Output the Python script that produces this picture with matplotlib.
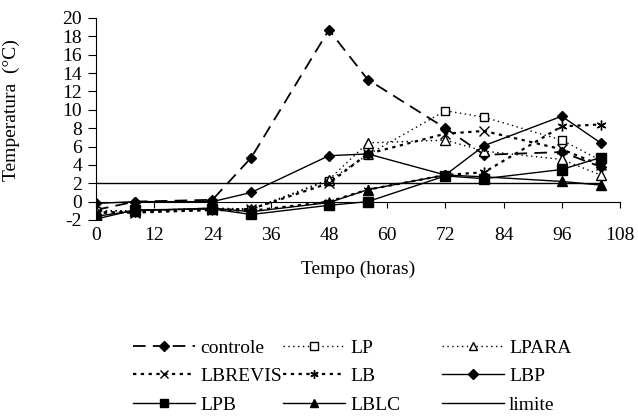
import numpy as np
import matplotlib
matplotlib.use("Agg")
import matplotlib.pyplot as plt

plt.rcParams['font.family'] = ['Liberation Serif', 'DejaVu Serif']
plt.rcParams['font.size'] = 14
plt.rcParams['axes.unicode_minus'] = False

# tempo (horas)
horas = [0, 8, 24, 32, 48, 56, 72, 80, 96, 104]

controle = [-0.9, 0.0, 0.2, 4.8, 18.7, 13.3, 8.0, 5.1, 5.4, 3.8]
lp = [-1.0, -1.0, -0.8, -0.9, 2.3, 5.1, 9.9, 9.2, 6.7, 4.5]
lpara = [-1.0, -1.0, -0.7, -0.8, 2.4, 6.4, 6.7, 5.5, 4.6, 2.9]
lbrevis = [-1.2, -1.2, -0.9, -0.8, 2.0, 5.2, 7.4, 7.7, 5.7, 4.0]
lb = [-1.2, -1.1, -0.9, -1.0, 0.0, 1.3, 2.9, 3.2, 8.2, 8.4]
lbp = [-0.2, 0.0, 0.0, 1.0, 5.0, 5.2, 2.9, 6.1, 9.3, 6.4]
lpb = [-1.9, -0.9, -0.8, -1.4, -0.4, 0.0, 2.8, 2.5, 3.5, 4.8]
lblc = [-1.6, -1.0, -0.7, -1.1, -0.1, 1.3, 2.9, 2.7, 2.2, 1.8]
limite = [2, 2, 2, 2, 2, 2, 2, 2, 2, 2]

fig = plt.figure(figsize=(6.38, 4.2), dpi=100)
ax = fig.add_axes([96 / 638, 1 - 220 / 420, 524 / 638, 202 / 420])

k = dict(color='black', markeredgecolor='black')
h = {}
h['controle'], = ax.plot(horas, controle, dashes=(7, 4), lw=1.3, marker='D', ms=5.5, **k)
h['LP'], = ax.plot(horas, lp, dashes=(1, 2.5), lw=1.0, marker='s', ms=6,
                   markerfacecolor='white', markeredgewidth=1.0, **k)
h['LPARA'], = ax.plot(horas, lpara, dashes=(1, 2.5), lw=1.0, marker='^', ms=6.5,
                      markerfacecolor='white', markeredgewidth=1.0, **k)
h['LBREVIS'], = ax.plot(horas, lbrevis, dashes=(1.5, 2), lw=1.6, marker='x', ms=6.5,
                        markeredgewidth=1.0, **k)
h['LB'], = ax.plot(horas, lb, dashes=(1.5, 2), lw=1.6, marker=(6, 2, 0), ms=7,
                   markeredgewidth=1.0, **k)
h['LBP'], = ax.plot(horas, lbp, '-', lw=1.0, marker='D', ms=5.5, **k)
h['LPB'], = ax.plot(horas, lpb, '-', lw=1.0, marker='s', ms=6.5, **k)
h['LBLC'], = ax.plot(horas, lblc, '-', lw=1.0, marker='^', ms=6.5, **k)
h['limite'], = ax.plot(horas, limite, '-', lw=1.0, color='black')

ax.set_xlim(0, 108)
ax.set_ylim(-2, 20)
ax.set_xticks(np.arange(0, 109, 12))
ax.set_yticks(np.arange(-2, 21, 2))

ax.spines['top'].set_visible(False)
ax.spines['right'].set_visible(False)
ax.spines['bottom'].set_position(('data', 0))
ax.spines['left'].set_linewidth(0.8)
ax.spines['bottom'].set_linewidth(0.8)
ax.tick_params(axis='x', direction='out', length=4.5, width=0.8, pad=14)
ax.tick_params(axis='y', direction='out', length=6, width=0.8, pad=4)

ax.set_xlabel('Tempo (horas)')
ax.xaxis.set_label_coords(0.5, -0.2)
ax.set_ylabel('Temperatura  (°C)')
ax.yaxis.set_label_coords(-0.145, 0.545)

cols = [['controle', 'LBREVIS', 'LPB'],
        ['LP', 'LB', 'LBLC'],
        ['LPARA', 'LBP', 'limite']]
col_x = [133, 283, 442]
for names, x0 in zip(cols, col_x):
    fig.legend([h[n] for n in names], names, loc='upper left',
               bbox_to_anchor=(x0 / 638, 1 - 339 / 420), frameon=False,
               borderpad=0, borderaxespad=0, handlelength=3.2,
               handletextpad=0.25, labelspacing=0.56, fontsize=14,
               markerscale=0.85)

fig.savefig('out.png', dpi=100)
